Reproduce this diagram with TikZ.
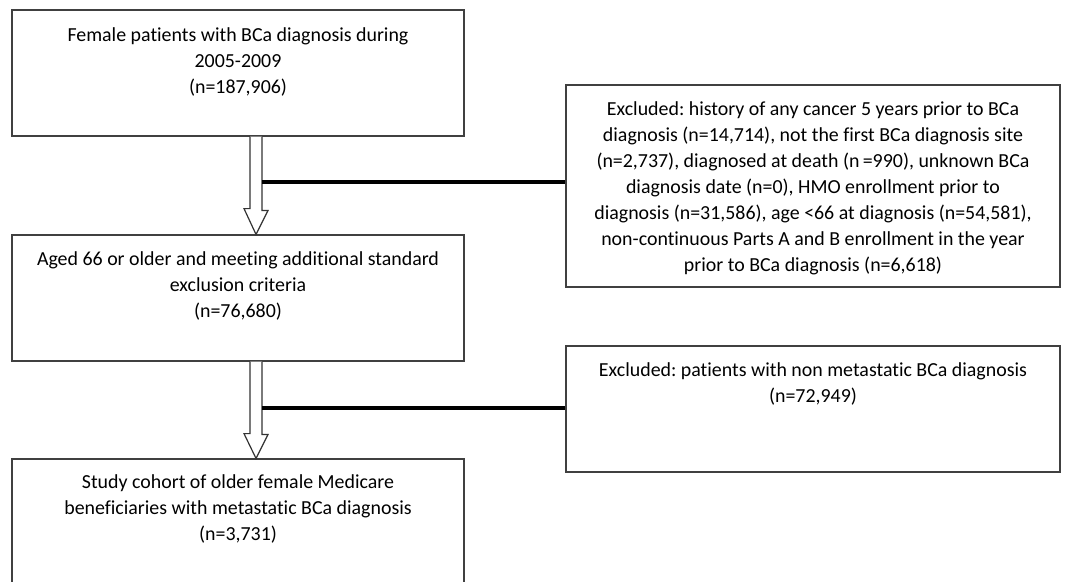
\documentclass[tikz,border=0pt]{standalone}
\usepackage{fontspec}
\setmainfont{Carlito}[Ligatures=NoCommon]
\frenchspacing
\begin{document}
\begin{tikzpicture}[x=1pt,y=-1pt,
  box/.style={draw=black!75,line width=1.2pt,inner sep=0pt,fill=white},
  txt/.style={anchor=north,align=center,inner sep=0pt,text=black,
    font=\fontsize{19.9}{26}\selectfont},
  hollow/.style={draw=black!80,line width=1.2pt,fill=white,line join=miter},
  link/.style={line width=3.8pt,black}]
\useasboundingbox (0,0) rectangle (1092,581);
\clip (0,0) rectangle (1092,581);
% boxes
\node[box,minimum width=452pt,minimum height=126pt] (b1) at (238,73) {};
\node[box,minimum width=452pt,minimum height=126pt] (b2) at (238,298) {};
\node[box,minimum width=452pt,minimum height=126pt] (b3) at (238,522) {};
\node[box,minimum width=494pt,minimum height=202pt] (e1) at (813,186) {};
\node[box,minimum width=494pt,minimum height=126pt] (e2) at (813,409) {};
% texts
\node[txt] (t1) at ([yshift=-18pt]b1.north) {Female patients with BCa diagnosis during\\2005-2009\\(n=187,906)};
\node[txt] (t2) at ([yshift=-17pt]b2.north) {Aged 66 or older and meeting additional standard\\exclusion criteria\\(n=76,680)};
\node[txt] (t3) at ([yshift=-16pt]b3.north) {Study cohort of older female Medicare\\beneficiaries with metastatic BCa diagnosis\\(n=3,731)};
\node[txt] (te1) at ([yshift=-17pt]e1.north) {Excluded: history of any cancer 5 years prior to BCa\\diagnosis (n=14,714), not the first BCa diagnosis site\\(n=2,737), diagnosed at death (n\,=990), unknown BCa\\diagnosis date (n=0), HMO enrollment prior to\\diagnosis (n=31,586), age <66 at diagnosis (n=54,581),\\non-continuous Parts A and B enrollment in the year\\prior to BCa diagnosis (n=6,618)};
\node[txt] (te2) at ([yshift=-17pt]e2.north) {Excluded: patients with non metastatic BCa diagnosis\\(n=72,949)};
% hollow arrows
\coordinate (a1) at ([xshift=18pt]b1.south);
\coordinate (a2) at ([xshift=18pt]b2.south);
\draw[hollow] ([xshift=-6pt]a1) -- ++(0,72) -- ++(-6,0) -- (a1 |- b2.north) -- ++(12,-24) -- ++(-6,0) -- ([xshift=6pt]a1);
\draw[hollow] ([xshift=-6pt]a2) -- ++(0,72) -- ++(-6,0) -- (a2 |- b3.north) -- ++(12,-24) -- ++(-6,0) -- ([xshift=6pt]a2);
% links
\coordinate (c1) at ([xshift=6pt,yshift=-45pt]a1);
\coordinate (c2) at ([xshift=6pt,yshift=-46pt]a2);
\draw[link] (c1) -- (c1 -| e1.west);
\draw[link] (c2) -- (c2 -| e2.west);
\end{tikzpicture}
\end{document}
